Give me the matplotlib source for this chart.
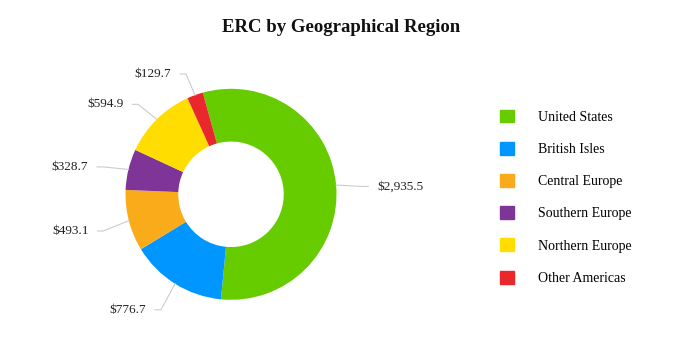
import numpy as np
import matplotlib
matplotlib.use('Agg')
import matplotlib.pyplot as plt
import matplotlib.patches as mpatches

# data
regions = ['United States', 'British Isles', 'Central Europe',
           'Southern Europe', 'Northern Europe', 'Other Americas']
erc = [2935.5, 776.7, 493.1, 328.7, 594.9, 129.7]
colors = ['#66CC00', '#0096FF', '#FAAB1A', '#7F3598', '#FFDD00', '#E8282B']

TITLE = 'ERC by Geographical Region'
W, H = 682, 360
CX, CY, R = 231, 165.7, 105.5  # pie centre (px from bottom-left) and radius
L = 1.5

plt.rcParams['font.family'] = ['Liberation Serif', 'DejaVu Serif']

fig = plt.figure(figsize=(W / 100, H / 100), dpi=100)
S = 2 * L * R
ax = fig.add_axes([(CX - S / 2) / W, (CY - S / 2) / H, S / W, S / H])

wedges, _ = ax.pie(erc, colors=colors, startangle=105.5, counterclock=False,
                   radius=1.0, wedgeprops=dict(width=0.5, linewidth=0))
# pie() resets the limits, so set them afterwards
ax.set_xlim(-L, L)
ax.set_ylim(-L, L)
ax.set_aspect('equal')
ax.axis('off')

# data labels with connectors (highcharts-like placement)
for w, v in zip(wedges, erc):
    mid = np.deg2rad((w.theta1 + w.theta2) / 2)
    c, s = np.cos(mid), np.sin(mid)
    side = 1 if c >= 0 else -1
    ay = 1.25 * s - 0.035
    ax_ = 1.25 * c
    edge = ax_ + side * 0.14
    ax.plot([c, ax_, edge - side * 0.085], [s, ay, ay],
            color='#cccccc', lw=0.8, clip_on=False)
    ax.text(edge, ay, f'${v:,.1f}', fontsize=9.5,
            ha='left' if side > 0 else 'right', va='center', color='#222222')

fig.text(0.5, 1 - 28 / H, TITLE, ha='center', va='center',
         fontsize=13.5, fontweight='bold', color='#111111')

handles = [mpatches.Patch(color=c, label=r) for c, r in zip(colors, regions)]
fig.legend(handles=handles, loc='upper left',
           bbox_to_anchor=(494 / W, 1 - 104 / H), frameon=False,
           fontsize=10, handlelength=1.05, handleheight=1.05,
           handletextpad=1.75, labelspacing=1.3, borderaxespad=0)

fig.savefig('out.png', dpi=100)
